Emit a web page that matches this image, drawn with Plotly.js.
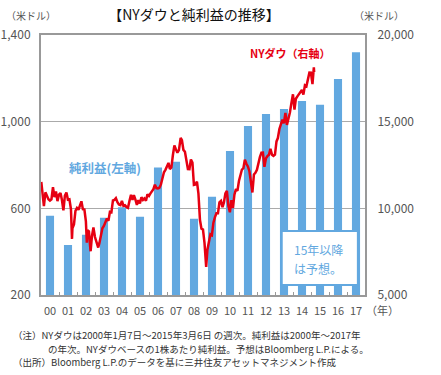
<!DOCTYPE html>
<html>
<head>
<meta charset="utf-8">
<script src="https://cdn.plot.ly/plotly-3.0.1.min.js"></script>
<style>html,body{margin:0;padding:0;background:#fff;}#chart{width:441px;height:375px;}</style>
</head>
<body>
<div id="chart"></div>
<script>
// ---- Data ----
const yearLabels = ['00','01','02','03','04','05','06','07','08','09','10','11','12','13','14','15','16','17'];
// 1株あたり純利益 (US$, left axis)
const earnings = [566, 431, 478, 557, 605, 561, 788, 815, 552, 654, 865, 980, 1035, 1058, 1095, 1078, 1197, 1320];

// NYダウ (right axis), month-end levels per year
const dow2000 = [10940, 10128, 10922, 10734, 10522, 10448, 10522, 11215, 10651, 10971, 10415, 10787];
const dow2001 = [10887, 10495, 9879, 10735, 10912, 10502, 10523, 9950, 8848, 9075, 9852, 10022];
const dow2002 = [9920, 10106, 10404, 9946, 9925, 9243, 8737, 8664, 7592, 8397, 8896, 8342];
const dow2003 = [8054, 7891, 7992, 8480, 8850, 8985, 9234, 9416, 9275, 9801, 9782, 10454];
const dow2004 = [10488, 10584, 10358, 10226, 10188, 10435, 10140, 10174, 10080, 10027, 10428, 10783];
const dow2005 = [10490, 10766, 10504, 10193, 10467, 10275, 10641, 10482, 10569, 10440, 10806, 10718];
const dow2006 = [10865, 10993, 11109, 11367, 11168, 11150, 11186, 11381, 11679, 12081, 12222, 12463];
const dow2007 = [12622, 12269, 12354, 13063, 13628, 13409, 13212, 13358, 13896, 13930, 13372, 13265];
const dow2008 = [12650, 12266, 12263, 12820, 12638, 11350, 11378, 11544, 10851, 9325, 8829, 8776];
const dow2009 = [8001, 7063, 7609, 8168, 8500, 8447, 9172, 9496, 9712, 9713, 10345, 10428];
const dow2010 = [10067, 10325, 10857, 11009, 10137, 9774, 10466, 10015, 10788, 11118, 11006, 11578];
const dow2011 = [11892, 12226, 12320, 12811, 12570, 12414, 12143, 11614, 10913, 11955, 12046, 12218];
const dow2012 = [12633, 12952, 13212, 13214, 12393, 12880, 13009, 13091, 13437, 13096, 13026, 13104];
const dow2013 = [13861, 14054, 14579, 14840, 15116, 14910, 15500, 14810, 15130, 15546, 16086, 16577];
const dow2014 = [15699, 16322, 16458, 16581, 16717, 16827, 16563, 17098, 17043, 17391, 17828, 17823];
const dow2015 = [17165, 18133];
// weekly points seen in the picture (start, end and notable extremes)
const dowWeeklyDates = ['2000-01-07', '2001-09-21', '2002-07-19', '2002-10-04', '2003-03-07', '2007-10-05', '2009-03-06', '2015-03-06'];
const dowWeeklyValues = [11522, 8236, 8019, 7528, 7740, 14066, 6627, 17856];

// ---- Build the line series ----
const dowYears = [dow2000, dow2001, dow2002, dow2003, dow2004, dow2005, dow2006, dow2007,
                  dow2008, dow2009, dow2010, dow2011, dow2012, dow2013, dow2014, dow2015];
const pts = [];
dowYears.forEach((arr, yi) => {
  const y = 2000 + yi;
  arr.forEach((v, mi) => {
    const last = new Date(Date.UTC(y, mi + 1, 0)).getUTCDate();
    pts.push([`${y}-${String(mi + 1).padStart(2, '0')}-${String(last).padStart(2, '0')}`, v]);
  });
});
dowWeeklyDates.forEach((d, i) => pts.push([d, dowWeeklyValues[i]]));
pts.sort((a, b) => a[0] < b[0] ? -1 : a[0] > b[0] ? 1 : 0);
const dowDates = pts.map(p => p[0]);
const dowValues = pts.map(p => p[1]);

const FONT = '"Noto Sans CJK JP", "Noto Sans", sans-serif';
const BLUE = '#62A8E0';
const RED = '#E60012';
const idx = yearLabels.map((_, i) => i);

const traces = [
  {
    type: 'bar', x: idx, y: earnings, width: 0.45,
    marker: {color: BLUE}, xaxis: 'x', yaxis: 'y', hoverinfo: 'skip'
  },
  {
    type: 'scatter', mode: 'lines', x: dowDates, y: dowValues,
    line: {color: RED, width: 2.5}, xaxis: 'x2', yaxis: 'y2', hoverinfo: 'skip'
  }
];

const layout = {
  width: 441, height: 375,
  margin: {l: 41, r: 76, t: 35, b: 80},
  paper_bgcolor: '#fff', plot_bgcolor: '#fff',
  showlegend: false, hovermode: false,
  font: {family: FONT, color: '#555'},
  title: {text: '【NYダウと純利益の推移】', x: 0.44, xanchor: 'center', y: 0.96, yanchor: 'middle',
          font: {family: FONT, size: 14, color: '#111'}},
  xaxis: {
    range: [-0.5, 17.5], tickvals: idx, ticktext: yearLabels, ticks: '',
    tickfont: {size: 11, color: '#555'}, ticklabelstandoff: 5,
    showline: true, mirror: true, linecolor: '#999', linewidth: 2,
    showgrid: false, zeroline: false, fixedrange: true,
    minor: {tickvals: idx.slice(0, 17).map(i => i + 0.5), ticks: 'inside', ticklen: 3, tickcolor: '#999', showgrid: false}
  },
  xaxis2: {
    type: 'date', overlaying: 'x', anchor: 'y2', range: ['2000-01-01', '2018-01-01'],
    visible: false, fixedrange: true
  },
  yaxis: {
    range: [200, 1400], tick0: 200, dtick: 400, tickformat: ',',
    tickfont: {size: 12, color: '#555'}, ticklabelstandoff: 6,
    showgrid: true, gridcolor: '#aaa', gridwidth: 1.5,
    showline: true, mirror: true, linecolor: '#999', linewidth: 2,
    zeroline: false, fixedrange: true
  },
  yaxis2: {
    overlaying: 'y', side: 'right', anchor: 'x',
    range: [5000, 20000], tick0: 5000, dtick: 5000, tickformat: ',',
    tickfont: {size: 12, color: '#555'}, ticklabelstandoff: 8,
    showgrid: false, showline: true, linecolor: '#999', linewidth: 2,
    zeroline: false, fixedrange: true
  },
  shapes: [
    {type: 'rect', xref: 'paper', yref: 'paper', x0: 0.743, x1: 0.978, y0: 0.038, y1: 0.246,
     fillcolor: '#fff', line: {color: BLUE, width: 2}, layer: 'above'}
  ],
  annotations: [
    {xref: 'paper', yref: 'paper', x: -0.03, y: 1.0 + 20 / 260, text: '（米ドル）', showarrow: false,
     xanchor: 'center', yanchor: 'middle', font: {size: 10, color: '#555'}},
    {xref: 'paper', yref: 'paper', x: (379 - 41) / 324, y: 1.0 + 20 / 260, text: '（米ドル）', showarrow: false,
     xanchor: 'center', yanchor: 'middle', font: {size: 10, color: '#555'}},
    {xref: 'paper', yref: 'paper', x: (382 - 41) / 324, y: (295 - 310) / 260, text: '（年）', showarrow: false,
     xanchor: 'center', yanchor: 'middle', font: {size: 11, color: '#555'}},
    {xref: 'paper', yref: 'paper', x: (248 - 41) / 324, y: (295 - 53) / 260, text: '<b>NYダウ（右軸）</b>', showarrow: false,
     xanchor: 'left', yanchor: 'middle', font: {size: 11, color: RED}},
    {xref: 'paper', yref: 'paper', x: (67 - 41) / 324, y: (295 - 167) / 260, text: '<b>純利益(左軸)</b>', showarrow: false,
     xanchor: 'left', yanchor: 'middle', font: {size: 12.5, color: BLUE}},
    {xref: 'paper', yref: 'paper', x: (292 - 41) / 324, y: (295 - 249) / 260, text: '15年以降', showarrow: false,
     xanchor: 'left', yanchor: 'middle', font: {size: 12, color: BLUE}},
    {xref: 'paper', yref: 'paper', x: (292 - 41) / 324, y: (295 - 268) / 260, text: 'は予想。', showarrow: false,
     xanchor: 'left', yanchor: 'middle', font: {size: 12, color: BLUE}},
    {xref: 'paper', yref: 'paper', x: (11 - 41) / 324, y: (295 - 335) / 260,
     text: '（注）NYダウは2000年1月7日～2015年3月6日 の週次。純利益は2000年～2017年', showarrow: false,
     xanchor: 'left', yanchor: 'middle', font: {size: 9.5, color: '#333'}},
    {xref: 'paper', yref: 'paper', x: (46 - 41) / 324, y: (295 - 349) / 260,
     text: 'の年次。NYダウベースの1株あたり純利益。予想はBloomberg L.P.による。', showarrow: false,
     xanchor: 'left', yanchor: 'middle', font: {size: 9.5, color: '#333'}},
    {xref: 'paper', yref: 'paper', x: (11 - 41) / 324, y: (295 - 362) / 260,
     text: '（出所）Bloomberg L.P.のデータを基に三井住友アセットマネジメント作成', showarrow: false,
     xanchor: 'left', yanchor: 'middle', font: {size: 9.5, color: '#333'}}
  ]
};

Plotly.newPlot('chart', traces, layout, {staticPlot: true, displayModeBar: false});
</script>
</body>
</html>
